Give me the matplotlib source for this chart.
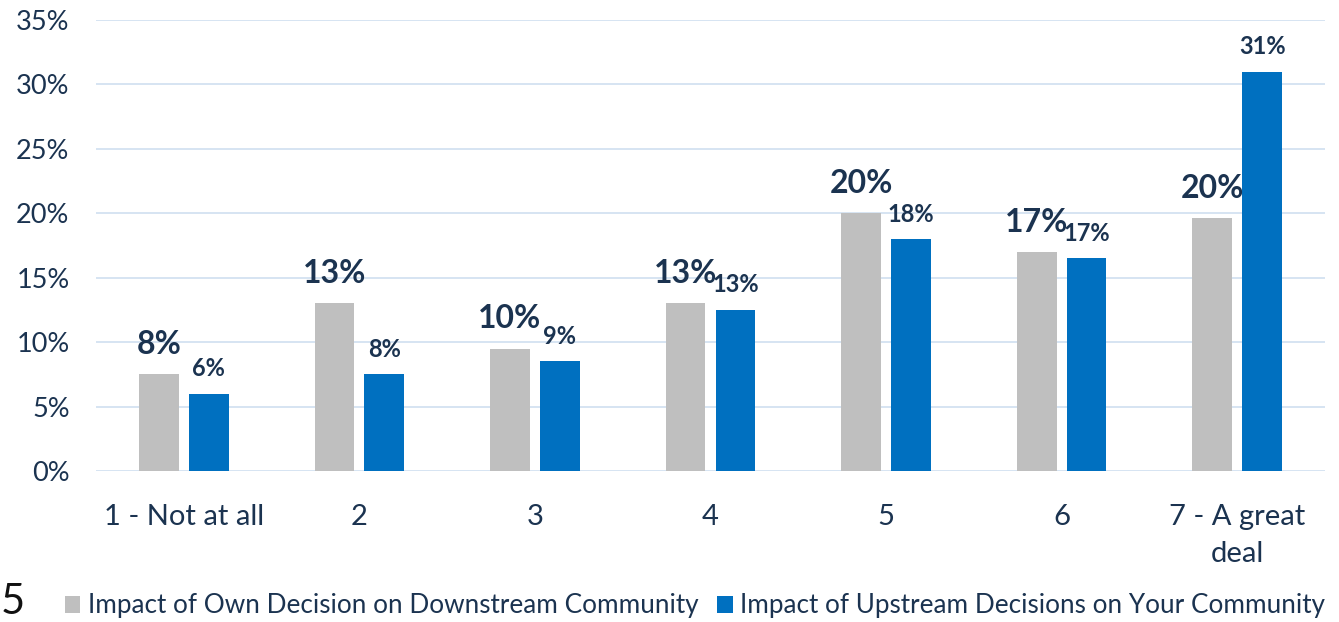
import matplotlib
matplotlib.use("Agg")
import matplotlib.pyplot as plt
import numpy as np
from matplotlib.patches import Patch

plt.rcParams['font.family'] = ['Lato', 'DejaVu Sans']

categories = ["1 - Not at all", "2", "3", "4", "5", "6", "7 - A great\ndeal"]
own_vals = [7.5, 13.0, 9.5, 13.0, 20.0, 17.0, 19.6]
up_vals = [6.0, 7.5, 8.5, 12.5, 18.0, 16.5, 31.0]
own_labels = ["8%", "13%", "10%", "13%", "20%", "17%", "20%"]
up_labels = ["6%", "8%", "9%", "13%", "18%", "17%", "31%"]
series_names = ["Impact of Own Decision on Downstream Community",
                "Impact of Upstream Decisions on Your Community"]
yticks = [0, 5, 10, 15, 20, 25, 30, 35]

W, H = 1339, 622
fig = plt.figure(figsize=(W / 100, H / 100), dpi=100)
ax = fig.add_axes([96 / W, (H - 471) / H, (1325 - 96) / W, (471 - 20) / H])

gray = "#bfbfbf"
blue = "#0070c0"
navy = "#1b3350"
gridc = "#d3e2f1"

x = np.arange(len(categories))
bw = 0.226
off = 0.142
ax.bar(x - off, own_vals, bw, color=gray, zorder=3)
ax.bar(x + off, up_vals, bw, color=blue, zorder=3)

for xi, v, lab in zip(x, own_vals, own_labels):
    ax.annotate(lab, (xi - off, v), xytext=(0, 21.5), textcoords="offset points",
                ha="center", va="center", fontsize=23, fontweight="bold", color=navy, zorder=4)
for xi, v, lab in zip(x, up_vals, up_labels):
    ax.annotate(lab, (xi + off, v), xytext=(0, 18), textcoords="offset points",
                ha="center", va="center", fontsize=17, fontweight="bold", color=navy, zorder=4)

ax.set_xlim(-0.5, len(categories) - 0.5)
ax.set_ylim(0, 35)
ax.set_yticks(yticks)
ax.set_yticklabels([f"{t}%" for t in yticks], fontsize=19.5, color=navy)
ax.set_xticks(x)
ax.set_xticklabels(categories, fontsize=21, color=navy, linespacing=1.5)
ax.tick_params(axis="y", length=0, pad=19)
ax.tick_params(axis="x", length=0, pad=24)
ax.grid(axis="y", color=gridc, linewidth=1.3, zorder=0)
for s in ax.spines.values():
    s.set_visible(False)

handles = [Patch(facecolor=gray, label=series_names[0]),
           Patch(facecolor=blue, label=series_names[1])]
fig.legend(handles=handles, loc="center", bbox_to_anchor=(695 / W, (H - 606) / H),
           ncol=2, frameon=False, fontsize=18.8, handlelength=0.6, handleheight=0.6,
           handletextpad=0.3, columnspacing=0.7, labelcolor=navy, borderpad=0)

fig.text(1 / W, 8 / H, "5", fontsize=30, color="#111111", ha="left", va="baseline")

fig.savefig("out.png", dpi=100)
